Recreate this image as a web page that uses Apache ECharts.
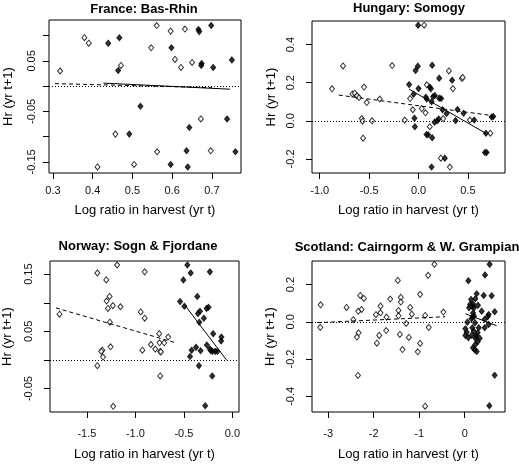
<!DOCTYPE html>
<html>
<head>
<meta charset="utf-8">
<script src="https://cdn.jsdelivr.net/npm/echarts@6/dist/echarts.min.js"></script>
<style>
html,body{margin:0;padding:0;background:#fff;}
#chart{width:519px;height:466px;}
</style>
</head>
<body>
<div id="chart"></div>
<script>
// ---------- France: Bas-Rhin ----------
const franceOpen = [[0.318,0.030],[0.379,0.096],[0.390,0.085],[0.412,-0.160],[0.457,-0.095],[0.471,0.041],[0.504,-0.155],[0.547,0.076],[0.561,0.120],[0.562,-0.130],[0.596,0.109],[0.607,0.053],[0.622,0.037],[0.632,0.113],[0.650,0.047],[0.672,-0.065],[0.697,-0.128]];
const franceFilled = [[0.439,0.085],[0.467,0.096],[0.464,0.031],[0.520,-0.040],[0.492,-0.095],[0.598,0.076],[0.666,0.112],[0.668,0.108],[0.698,0.120],[0.674,0.045],[0.673,0.041],[0.703,0.037],[0.750,0.052],[0.643,-0.082],[0.738,-0.065],[0.636,-0.128],[0.759,-0.130],[0.596,-0.155],[0.639,-0.160]];
const franceDashed = [[0.305,0.005],[0.700,-0.003]];
const franceSolid = [[0.427,0.006],[0.745,-0.006]];
const franceXTicks = [0.3,0.4,0.5,0.6,0.7];
const franceYTicks = [-0.15,-0.10,-0.05,0,0.05,0.10];
const franceYLabels = [-0.15,-0.05,0.05];

// ---------- Hungary: Somogy ----------
const hungaryOpen = [[-0.875,0.168],[-0.764,0.288],[-0.669,0.141],[-0.645,0.145],[-0.622,0.131],[-0.602,0.122],[-0.551,0.177],[-0.524,0.096],[-0.392,0.114],[-0.574,0.012],[-0.567,-0.002],[-0.470,0.000],[-0.561,-0.091],[0.057,0.502],[-0.267,0.290],[0.307,0.262],[0.439,0.222],[0.447,0.228],[0.084,0.189],[0.348,0.169],[-0.085,0.117],[-0.058,0.058],[0.033,0.064],[0.071,0.042],[0.250,0.012],[-0.139,0.004],[0.520,0.004],[0.114,-0.031],[0.726,-0.065],[0.226,-0.196],[0.317,-0.243]];
const hungaryFilled = [[-0.004,0.502],[-0.007,0.287],[-0.030,0.264],[0.138,0.292],[0.209,0.224],[0.340,0.213],[-0.095,0.190],[0.000,0.169],[0.114,0.177],[0.125,0.168],[-0.050,0.140],[0.074,0.124],[0.084,0.114],[0.148,0.127],[0.165,0.133],[0.209,0.119],[0.229,0.117],[0.132,0.100],[0.395,0.059],[0.243,0.058],[0.284,0.038],[0.456,0.040],[0.756,0.023],[0.740,0.020],[-0.041,0.014],[0.203,0.010],[0.189,0.000],[0.162,-0.007],[0.375,0.001],[0.563,0.004],[-0.037,-0.031],[0.081,-0.072],[0.097,-0.073],[0.138,-0.089],[0.682,-0.065],[0.672,-0.166],[0.689,-0.166],[0.266,-0.196],[0.132,-0.243]];
const hungaryDashed = [[-0.807,0.135],[0.740,0.028]];
const hungarySolid = [[-0.095,0.166],[0.682,-0.066]];
const hungaryXTicks = [-1.0,-0.5,0.0,0.5];
const hungaryYTicks = [-0.2,0.0,0.2,0.4];

// ---------- Norway: Sogn & Fjordane ----------
const norwayOpen = [[-1.782,0.080],[-1.392,0.152],[-1.300,0.140],[-1.188,0.166],[-0.904,0.154],[-1.266,0.111],[-1.297,0.103],[-1.283,0.090],[-1.232,0.095],[-1.154,0.093],[-1.263,0.066],[-0.945,0.084],[-0.904,0.073],[-1.256,0.023],[-1.341,0.017],[-1.352,0.015],[-1.334,0.005],[-1.392,-0.010],[-1.229,-0.081],[-0.928,0.017],[-0.840,0.027],[-0.795,0.019],[-0.751,0.030],[-0.744,0.015],[-0.737,0.014],[-0.754,0.046],[-0.703,0.030],[-0.662,0.040],[-0.744,-0.028]];
const norwayFilled = [[-0.464,0.166],[-0.430,0.152],[-0.505,0.140],[-0.232,0.154],[-0.539,0.102],[-0.495,0.094],[-0.362,0.111],[-0.334,0.085],[-0.355,0.081],[-0.266,0.090],[-0.246,0.092],[-0.294,0.073],[-0.341,0.066],[-0.198,0.046],[-0.113,0.040],[-0.116,0.033],[-0.375,0.022],[-0.420,0.017],[-0.328,0.016],[-0.263,0.026],[-0.232,0.019],[-0.222,0.016],[-0.205,0.015],[-0.177,0.015],[-0.154,0.015],[-0.437,0.006],[-0.345,-0.010],[-0.208,-0.028],[-0.280,-0.080]];
const norwayDashed = [[-1.819,0.091],[-0.584,0.030]];
const norwaySolid = [[-0.495,0.097],[-0.061,0.000]];
const norwayXTicks = [-1.5,-1.0,-0.5,0.0];
const norwayYTicks = [-0.05,0,0.05,0.10,0.15];
const norwayYLabels = [-0.05,0.05,0.15];

// ---------- Scotland: Cairngorm & W. Grampian ----------
const scotlandOpen = [[-3.165,0.091],[-3.173,-0.030],[-2.595,0.077],[-2.449,0.011],[-2.295,0.141],[-2.215,0.125],[-2.266,0.066],[-2.339,0.056],[-2.332,-0.059],[-2.368,-0.082],[-2.346,-0.288],[-1.930,-0.115],[-1.879,-0.073],[-1.952,0.038],[-1.850,0.048],[-1.850,0.084],[-1.725,-0.047],[-1.718,0.025],[-1.637,0.122],[-1.469,0.222],[-1.455,0.061],[-1.455,0.032],[-1.404,0.131],[-1.404,0.106],[-1.425,-0.068],[-1.367,-0.149],[-1.287,-0.009],[-1.199,0.077],[-1.162,0.041],[-1.228,-0.084],[-1.031,-0.161],[-0.980,-0.116],[-0.980,0.147],[-0.870,0.034],[-0.870,-0.453],[-0.804,0.249],[-0.789,-0.030],[-0.665,0.308],[-0.468,0.052]];
const scotlandFilled = [[0.548,0.308],[0.446,0.251],[0.080,0.220],[0.263,0.150],[0.417,0.141],[0.592,0.140],[0.139,0.120],[0.234,0.124],[0.117,0.093],[0.183,0.095],[0.161,0.082],[0.205,0.075],[0.095,0.075],[0.292,0.088],[0.373,0.057],[0.658,0.054],[0.526,0.039],[0.183,0.047],[0.175,0.025],[0.146,0.016],[0.205,0.030],[0.504,0.027],[0.439,0.013],[0.058,-0.002],[0.227,-0.005],[0.526,-0.014],[0.015,-0.038],[0.168,-0.032],[0.307,-0.032],[0.439,-0.032],[0.044,-0.056],[0.197,-0.050],[0.285,-0.059],[0.015,-0.073],[0.154,-0.072],[0.249,-0.073],[0.080,-0.086],[0.234,-0.088],[0.329,-0.088],[0.285,-0.107],[0.234,-0.122],[0.183,-0.140],[0.219,-0.150],[0.263,-0.159],[0.658,-0.287],[0.541,-0.450]];
const scotlandDashed = [[-3.245,-0.005],[-0.431,0.027]];
const scotlandSolid = [[0.015,0.043],[0.702,-0.021]];
const scotlandXTicks = [-3,-2,-1,0];
const scotlandYTicks = [-0.4,-0.2,0.0,0.2];

const titles = ['France: Bas-Rhin','Hungary: Somogy','Norway: Sogn & Fjordane','Scotland: Cairngorm & W. Grampian'];
const xName = 'Log ratio in harvest (yr t)';
const yName = 'Hr (yr t+1)';

const FONT = '"Liberation Sans", Arial, Helvetica, sans-serif';

const panels = [
  {open: franceOpen, filled: franceFilled, dashed: franceDashed, solid: franceSolid,
   grid: {left: 49, top: 20, width: 192, height: 153},
   x: {min: 0.290, max: 0.773, ticks: franceXTicks, labels: franceXTicks, dec: 1, margin: 12, gap: 31},
   y: {min: -0.172, max: 0.131, ticks: franceYTicks, labels: franceYLabels, dec: 2, margin: 12, gap: 34},
   title: {x: 144, y: 9}},
  {open: hungaryOpen, filled: hungaryFilled, dashed: hungaryDashed, solid: hungarySolid,
   grid: {left: 312, top: 21, width: 193, height: 152},
   x: {min: -1.078, max: 0.875, ticks: hungaryXTicks, labels: hungaryXTicks, dec: 1, margin: 12, gap: 31},
   y: {min: -0.274, max: 0.524, ticks: hungaryYTicks, labels: hungaryYTicks, dec: 1, margin: 16, gap: 34},
   title: {x: 409, y: 8}},
  {open: norwayOpen, filled: norwayFilled, dashed: norwayDashed, solid: norwaySolid,
   grid: {left: 49, top: 261, width: 190, height: 151},
   x: {min: -1.88, max: 0.068, ticks: norwayXTicks, labels: norwayXTicks, dec: 1, margin: 16, gap: 36},
   y: {min: -0.091, max: 0.173, ticks: norwayYTicks, labels: norwayYLabels, dec: 2, margin: 16, gap: 36},
   title: {x: 138, y: 246}},
  {open: scotlandOpen, filled: scotlandFilled, dashed: scotlandDashed, solid: scotlandSolid,
   grid: {left: 312, top: 261, width: 193, height: 151},
   x: {min: -3.355, max: 0.885, ticks: scotlandXTicks, labels: scotlandXTicks, dec: 0, margin: 16, gap: 36},
   y: {min: -0.484, max: 0.326, ticks: scotlandYTicks, labels: scotlandYTicks, dec: 1, margin: 16, gap: 35},
   title: {x: 407, y: 247}}
];

const option = {
  animation: false,
  backgroundColor: '#fff',
  textStyle: {fontFamily: FONT, color: '#000'},
  graphic: [], grid: [], xAxis: [], yAxis: [], series: []
};

panels.forEach((p, i) => {
  option.graphic.push({
    type: 'text', x: p.title.x, y: p.title.y, silent: true,
    style: {text: titles[i], textAlign: 'center', textVerticalAlign: 'middle',
      font: 'bold 13px ' + FONT, fill: '#000'}
  });
  option.grid.push(Object.assign({show: true, borderColor: '#000', borderWidth: 1, backgroundColor: 'transparent', containLabel: false}, p.grid));
  option.xAxis.push({
    type: 'value', gridIndex: i, min: p.x.min, max: p.x.max,
    name: xName, nameLocation: 'middle', nameGap: p.x.gap,
    nameTextStyle: {fontFamily: FONT, fontSize: 13, color: '#000'},
    axisLine: {show: false, onZero: false},
    axisTick: {show: true, inside: false, length: 6, customValues: p.x.ticks, lineStyle: {color: '#000', width: 1}},
    axisLabel: {show: true, customValues: p.x.labels, margin: p.x.margin, fontFamily: FONT, fontSize: 11, color: '#111',
      formatter: (v) => Number(v).toFixed(p.x.dec)},
    splitLine: {show: false}
  });
  option.yAxis.push({
    type: 'value', gridIndex: i, min: p.y.min, max: p.y.max,
    name: yName, nameLocation: 'middle', nameGap: p.y.gap, nameRotate: 90,
    nameTextStyle: {fontFamily: FONT, fontSize: 13, color: '#000'},
    axisLine: {show: false, onZero: false},
    axisTick: {show: true, inside: false, length: 6, customValues: p.y.ticks, lineStyle: {color: '#000', width: 1}},
    axisLabel: {show: true, customValues: p.y.labels, rotate: 90, margin: p.y.margin, fontFamily: FONT, fontSize: 11, color: '#111',
      formatter: (v) => Number(v).toFixed(p.y.dec)},
    splitLine: {show: false}
  });
  option.series.push({
    type: 'scatter', xAxisIndex: i, yAxisIndex: i, data: p.open,
    symbol: 'diamond', symbolSize: [5, 6],
    itemStyle: {color: '#fff', borderColor: '#000', borderWidth: 1},
    silent: true
  });
  option.series.push({
    type: 'scatter', xAxisIndex: i, yAxisIndex: i, data: p.filled,
    symbol: 'diamond', symbolSize: [5, 6],
    itemStyle: {color: '#000', borderColor: '#000', borderWidth: 1},
    silent: true,
    markLine: {
      silent: true, symbol: ['none', 'none'], label: {show: false},
      lineStyle: {color: '#000', width: 1, type: [1, 2]},
      emphasis: {disabled: true},
      data: [{yAxis: 0}]
    }
  });
  option.series.push({
    type: 'line', xAxisIndex: i, yAxisIndex: i, data: p.dashed, symbol: 'none',
    lineStyle: {color: '#000', width: 1, type: [4, 3]}, silent: true, z: 3
  });
  option.series.push({
    type: 'line', xAxisIndex: i, yAxisIndex: i, data: p.solid, symbol: 'none',
    lineStyle: {color: '#000', width: 1, type: 'solid'}, silent: true, z: 3
  });
});

const chart = echarts.init(document.getElementById('chart'), null, {renderer: 'canvas'});
chart.setOption(option);
</script>
</body>
</html>
